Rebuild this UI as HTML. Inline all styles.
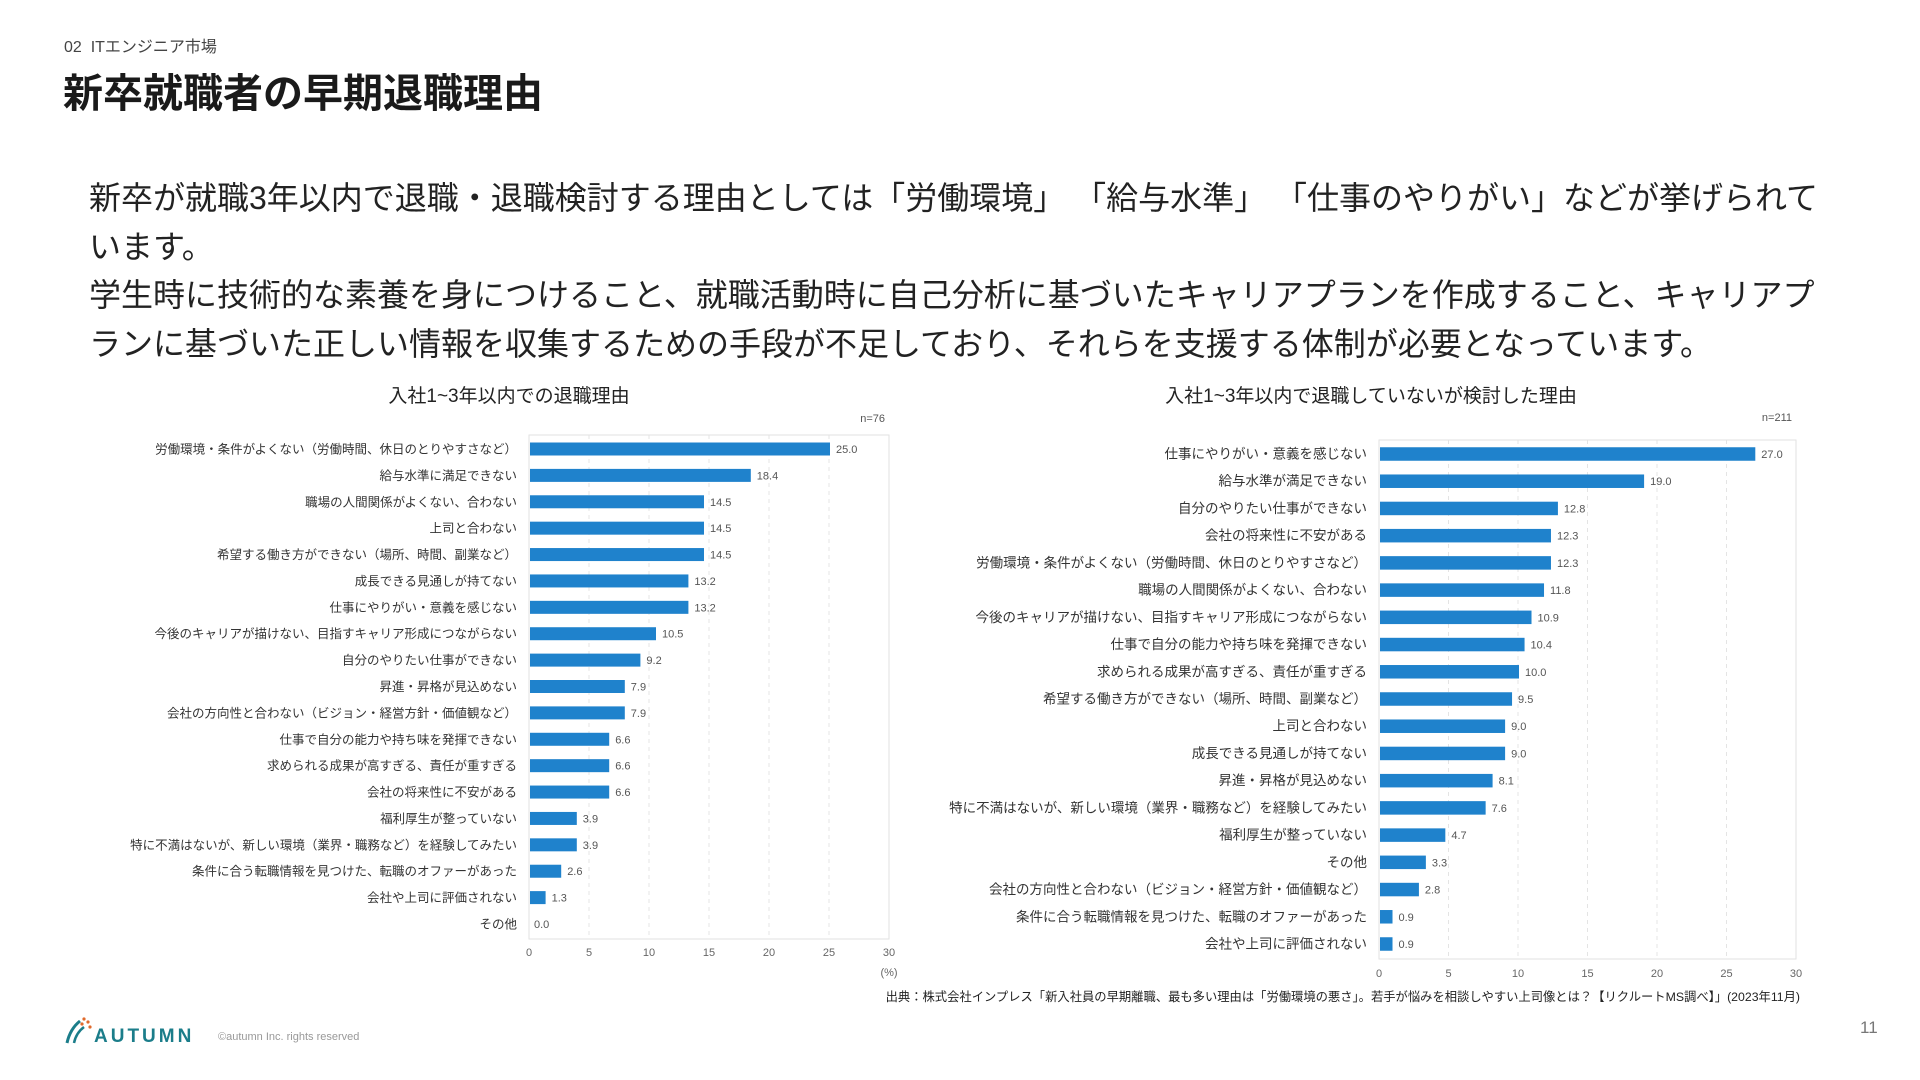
<!DOCTYPE html>
<html lang="ja"><head><meta charset="utf-8">
<style>
html,body{margin:0;padding:0;background:#fff}
body{width:1920px;height:1080px;position:relative;overflow:hidden;font-family:"Liberation Sans","Noto Sans CJK JP",sans-serif;color:#222}
.abs{position:absolute;white-space:nowrap}
</style></head><body>
<div class="abs" style="left:64px;top:33px;font-size:16px;color:#444">02&nbsp; ITエンジニア市場</div>
<div class="abs" style="left:63px;top:70px;font-size:40px;font-weight:bold;color:#1a1a1a;line-height:48px">新卒就職者の早期退職理由</div>
<div class="abs" style="left:89px;top:174px;font-size:32px;line-height:48.5px;color:#222">
新卒が就職3年以内で退職・退職検討する理由としては「労働環境」 「給与水準」 「仕事のやりがい」などが挙げられて<br>います。<br>学生時に技術的な素養を身につけること、就職活動時に自己分析に基づいたキャリアプランを作成すること、キャリアプ<br>ランに基づいた正しい情報を収集するための手段が不足しており、それらを支援する体制が必要となっています。</div>
<svg id="chart" width="1920" height="1080" style="position:absolute;left:0;top:0" font-family="Liberation Sans, Noto Sans CJK JP, sans-serif"></svg>
<div class="abs" style="right:120px;top:987px;font-size:12.3px;color:#222">出典：株式会社インプレス「新入社員の早期離職、最も多い理由は「労働環境の悪さ」。若手が悩みを相談しやすい上司像とは？【リクルートMS調べ】」(2023年11月)</div>
<div class="abs" style="left:64px;top:1015px;height:30px">
<svg width="130" height="30"><path d="M3 28 Q6 14 16 6" stroke="#1b7d8a" stroke-width="3" fill="none"/><path d="M10 28 Q12 18 20 12" stroke="#1b7d8a" stroke-width="2.5" fill="none"/><circle cx="20" cy="4" r="1.6" fill="#e06a2c"/><circle cx="24" cy="7" r="1.6" fill="#e06a2c"/><circle cx="18" cy="9" r="1.6" fill="#e06a2c"/><circle cx="26" cy="12" r="1.6" fill="#e06a2c"/><text x="30" y="27" font-size="19" font-weight="bold" fill="#1b7d8a" letter-spacing="3" font-family="Liberation Sans, sans-serif">AUTUMN</text></svg></div>
<div class="abs" style="left:218px;top:1031px;font-size:11px;color:#999">©autumn Inc. rights reserved</div>
<div class="abs" style="left:1860px;top:1018px;font-size:17px;color:#777">11</div>
<script>
const leftCategories=["労働環境・条件がよくない（労働時間、休日のとりやすさなど）","給与水準に満足できない","職場の人間関係がよくない、合わない","上司と合わない","希望する働き方ができない（場所、時間、副業など）","成長できる見通しが持てない","仕事にやりがい・意義を感じない","今後のキャリアが描けない、目指すキャリア形成につながらない","自分のやりたい仕事ができない","昇進・昇格が見込めない","会社の方向性と合わない（ビジョン・経営方針・価値観など）","仕事で自分の能力や持ち味を発揮できない","求められる成果が高すぎる、責任が重すぎる","会社の将来性に不安がある","福利厚生が整っていない","特に不満はないが、新しい環境（業界・職務など）を経験してみたい","条件に合う転職情報を見つけた、転職のオファーがあった","会社や上司に評価されない","その他"];
const leftValues=[25.0,18.4,14.5,14.5,14.5,13.2,13.2,10.5,9.2,7.9,7.9,6.6,6.6,6.6,3.9,3.9,2.6,1.3,0.0];
const rightCategories=["仕事にやりがい・意義を感じない","給与水準が満足できない","自分のやりたい仕事ができない","会社の将来性に不安がある","労働環境・条件がよくない（労働時間、休日のとりやすさなど）","職場の人間関係がよくない、合わない","今後のキャリアが描けない、目指すキャリア形成につながらない","仕事で自分の能力や持ち味を発揮できない","求められる成果が高すぎる、責任が重すぎる","希望する働き方ができない（場所、時間、副業など）","上司と合わない","成長できる見通しが持てない","昇進・昇格が見込めない","特に不満はないが、新しい環境（業界・職務など）を経験してみたい","福利厚生が整っていない","その他","会社の方向性と合わない（ビジョン・経営方針・価値観など）","条件に合う転職情報を見つけた、転職のオファーがあった","会社や上司に評価されない"];
const rightValues=[27.0,19.0,12.8,12.3,12.3,11.8,10.9,10.4,10.0,9.5,9.0,9.0,8.1,7.6,4.7,3.3,2.8,0.9,0.9];
const xTicks=[0,5,10,15,20,25,30];
const leftTitle="入社1~3年以内での退職理由";
const rightTitle="入社1~3年以内で退職していないが検討した理由";

const svg=document.getElementById('chart');
const NS='http://www.w3.org/2000/svg';
function mk(tag,attrs,text){const e=document.createElementNS(NS,tag);for(const k in attrs)e.setAttribute(k,attrs[k]);if(text!==undefined)e.textContent=text;svg.appendChild(e);return e;}

function drawChart(cfg,cats,vals,ticks,title){
  const xScale=v=>cfg.x0+(v/30)*(cfg.x30-cfg.x0);
  const yScale=i=>cfg.y0+i*(cfg.yN-cfg.y0)/(cats.length-1);
  const t=mk('text',{x:cfg.tx,y:cfg.ty,'font-size':19,'text-anchor':'middle',fill:'#222'},title);
  
  
  const n=mk('text',{x:cfg.x30-4,y:cfg.ny,'font-size':11,'text-anchor':'end',fill:'#555'},cfg.n);
  
  
  const fr=mk('rect',{x:cfg.x0,y:cfg.fy0,width:cfg.x30-cfg.x0,height:cfg.fy1-cfg.fy0,fill:'none',stroke:'#e2e2e2','stroke-width':1});
  
  
  ticks.forEach(tk=>{
    const x=xScale(tk);
    if(tk>0&&tk<30){const g=mk('line',{x1:x,x2:x,y1:cfg.fy0,y2:cfg.fy1,stroke:'#e4e4e4','stroke-dasharray':'4 4'});
      
      }
    const l=mk('text',{x:x,y:cfg.tickY,'font-size':11,'text-anchor':'middle',fill:'#666'},String(tk));
    
    
  });
  if(cfg.unit){const u=mk('text',{x:xScale(30),y:cfg.tickY+20,'font-size':11,'text-anchor':'middle',fill:'#666'},'(%)');
    
    }
  cats.forEach((c,i)=>{
    const y=yScale(i);
    const lb=mk('text',{x:cfg.x0-12,y:y+4.5,'font-size':cfg.fs,'text-anchor':'end',fill:'#333'},c);
    
    
    const w=xScale(vals[i])-cfg.x0;
    const b=mk('rect',{x:cfg.x0+1,y:y-cfg.bh/2,width:Math.max(w,0),height:cfg.bh,fill:'#1f82cc'});
    
    
    const v=mk('text',{x:xScale(vals[i])+(vals[i]>0?7:5),y:y+4,'font-size':11,fill:'#555'},vals[i].toFixed(1));
    
    
  });
}
drawChart({p:'left',x0:529,x30:889,y0:449,yN:924,bh:13,fy0:435,fy1:939,tickY:956,tx:509,ty:402,ny:422,n:'n=76',fs:12.5,unit:true},leftCategories,leftValues,xTicks,leftTitle);
drawChart({p:'right',x0:1379,x30:1796,y0:454,yN:944,bh:13.5,fy0:440,fy1:959,tickY:977,tx:1371,ty:402,ny:421,n:'n=211',fs:13.5,unit:false},rightCategories,rightValues,xTicks,rightTitle);
</script>
</body></html>
